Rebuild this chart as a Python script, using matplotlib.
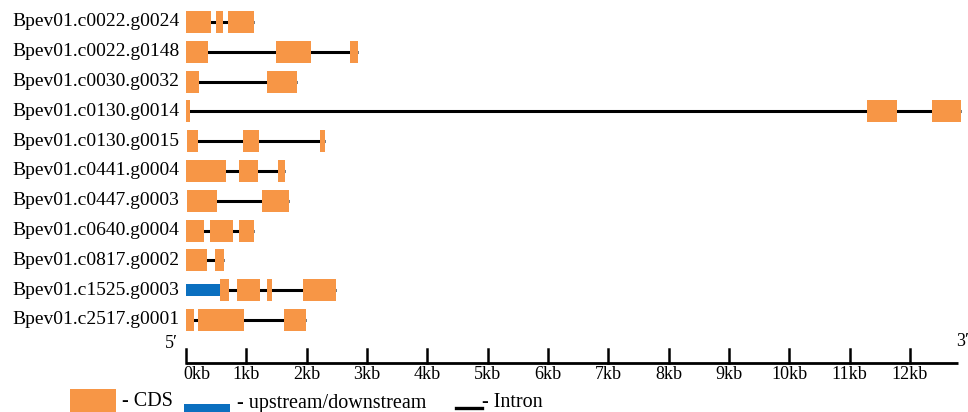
import matplotlib.pyplot as plt
from matplotlib.patches import Rectangle

plt.rcParams['font.family'] = ['Liberation Serif', 'DejaVu Serif']

genes = [
    "Bpev01.c0022.g0024",
    "Bpev01.c0022.g0148",
    "Bpev01.c0030.g0032",
    "Bpev01.c0130.g0014",
    "Bpev01.c0130.g0015",
    "Bpev01.c0441.g0004",
    "Bpev01.c0447.g0003",
    "Bpev01.c0640.g0004",
    "Bpev01.c0817.g0002",
    "Bpev01.c1525.g0003",
    "Bpev01.c2517.g0001",
]

# CDS segments per gene, in kb (start, end)
cds = [
    [(0.0, 0.41), (0.50, 0.61), (0.70, 1.13)],
    [(0.0, 0.37), (1.49, 2.07), (2.72, 2.85)],
    [(0.0, 0.22), (1.34, 1.84)],
    [(0.0, 0.07), (11.28, 11.79), (12.36, 12.85)],
    [(0.02, 0.20), (0.95, 1.21), (2.22, 2.30)],
    [(0.0, 0.66), (0.88, 1.19), (1.53, 1.64)],
    [(0.02, 0.51), (1.26, 1.71)],
    [(0.0, 0.30), (0.40, 0.78), (0.88, 1.13)],
    [(0.0, 0.35), (0.48, 0.63)],
    [(0.56, 0.71), (0.85, 1.23), (1.34, 1.43), (1.94, 2.49)],
    [(0.0, 0.13), (0.20, 0.96), (1.63, 1.99)],
]

# upstream/downstream regions (gene index, start, end)
utr = [(9, 0.0, 0.56)]

ticks_kb = list(range(13))
scale_end = 12.8

orange = '#F79646'
blue = '#0B6FBF'

fig = plt.figure(figsize=(9.68, 4.12), dpi=100)
ax = fig.add_axes([0, 0, 1, 1])
ax.set_xlim(-3.083, 12.962)
ax.set_ylim(13.09, -0.738)
ax.axis('off')

box_h = 0.74
for i, name in enumerate(genes):
    segs = cds[i]
    starts = [s for s, e in segs] + [s for g, s, e in utr if g == i]
    ends = [e for s, e in segs] + [e for g, s, e in utr if g == i]
    ax.plot([min(starts), max(ends)], [i, i], color='black', lw=2.2,
            solid_capstyle='butt', zorder=1)
    for s, e in segs:
        ax.add_patch(Rectangle((s, i - box_h / 2), e - s, box_h,
                               facecolor=orange, edgecolor='none', zorder=2))
    ax.text(-0.11, i, name, ha='right', va='center', fontsize=14)

for g, s, e in utr:
    ax.add_patch(Rectangle((s, g - 0.19), e - s, 0.38,
                           facecolor=blue, edgecolor='none', zorder=2))

# scale bar
ybar = 11.44
ax.plot([0, scale_end], [ybar, ybar], color='black', lw=2, solid_capstyle='butt')
for t in ticks_kb:
    ax.plot([t, t], [ybar, ybar - 0.45], color='black', lw=1.8)
    ax.text(t if t else -0.05, ybar + 0.4, f"{t}kb",
            ha='center' if t else 'left', va='center', fontsize=13)
ax.text(-0.25, ybar - 0.65, "5\u2032", ha='center', va='center', fontsize=13)
ax.text(12.76, ybar - 0.72, "3\u2032", ha='left', va='center', fontsize=13)

# legend (runs off the bottom edge like the original)
ax.add_patch(Rectangle((-1.92, 12.32), 0.76, 1.0, facecolor=orange, edgecolor='none'))
ax.text(-1.06, 12.74, "- CDS", ha='left', va='center', fontsize=14.5)
ax.add_patch(Rectangle((-0.03, 12.82), 0.76, 0.5, facecolor=blue, edgecolor='none'))
ax.text(0.85, 12.8, "- upstream/downstream", ha='left', va='center', fontsize=14.5)
ax.plot([4.48, 4.9], [12.95, 12.95], color='black', lw=2.4)
ax.text(4.9, 12.76, "- Intron", ha='left', va='center', fontsize=14.5)

fig.savefig('out.png', dpi=100)
